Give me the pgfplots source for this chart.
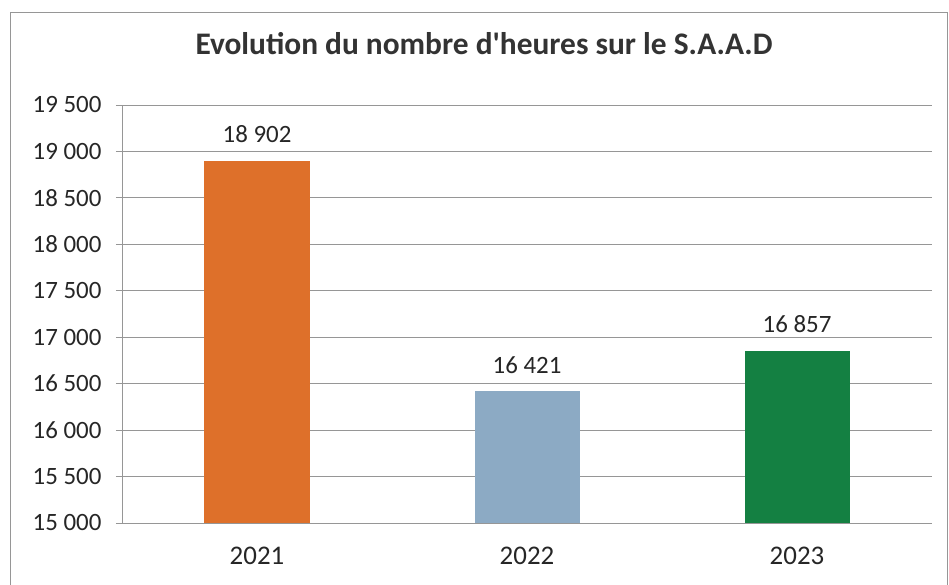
\documentclass[border=0pt]{standalone}
\usepackage{fontspec}
\setmainfont{Carlito}
\usepackage{pgfplots}
\pgfplotsset{compat=1.18}
\definecolor{barorange}{RGB}{222,112,42}
\definecolor{bargrey}{RGB}{140,170,196}
\definecolor{bargreen}{RGB}{20,128,66}
\definecolor{gridgrey}{RGB}{150,150,150}
\begin{document}
\begin{tikzpicture}
\useasboundingbox (-122bp,-62bp) rectangle (827bp,523bp);
\fill[white] (-122bp,-62bp) rectangle (827bp,523bp);
% scanned chart frame
\draw[gridgrey,line width=0.8bp] (-112bp,-70bp) -- (-112bp,511bp) -- (825bp,511bp) -- (825bp,-70bp);
\node[font=\fontsize{31.5}{36}\selectfont\bfseries,text=black!80] at (362bp,479bp)
  {Evolution du nombre d\textquotesingle heures sur le S.A.A.D};
\begin{axis}[
  at={(0,0)}, anchor=south west,
  scale only axis, width=810bp, height=418bp,
  ymin=15000, ymax=19500,
  xmin=-0.5, xmax=2.5,
  scaled y ticks=false,
  ytick={15000,15500,16000,16500,17000,17500,18000,18500,19000,19500},
  yticklabels={15 000,15 500,16 000,16 500,17 000,17 500,18 000,18 500,19 000,19 500},
  xtick={0,1,2},
  xticklabels={2021,2022,2023},
  extra x ticks={-0.5,0.5,1.5,2.5},
  extra x tick labels={},
  extra x tick style={major tick length=9bp, grid=none,
    tick style={draw=gridgrey, line width=0.8bp}},
  axis x line*=bottom,
  axis y line*=left,
  axis line style={gridgrey, line width=0.8bp},
  ymajorgrids=true,
  grid style={gridgrey, line width=0.8bp},
  major tick length=6bp,
  y tick style={gridgrey, line width=0.8bp},
  tick align=outside,
  x tick style={draw=none},
  every tick label/.style={font=\fontsize{25}{30}\selectfont, text=black!85},
  yticklabel style={xshift=-11bp},
  xticklabel style={yshift=-15bp, font=\fontsize{27}{30}\selectfont},
  ybar, bar width=105bp,
  point meta=explicit symbolic,
  nodes near coords={\pgfplotspointmeta},
  every node near coord/.append style={font=\fontsize{25}{30}\selectfont, text=black!85, yshift=14bp},
  clip=false,
]
\addplot[fill=barorange, draw=none, bar shift=0pt] coordinates {(0,18902) [18 902]};
\addplot[fill=bargrey, draw=none, bar shift=0pt] coordinates {(1,16421) [16 421]};
\addplot[fill=bargreen, draw=none, bar shift=0pt] coordinates {(2,16857) [16 857]};
\end{axis}
\end{tikzpicture}
\end{document}
